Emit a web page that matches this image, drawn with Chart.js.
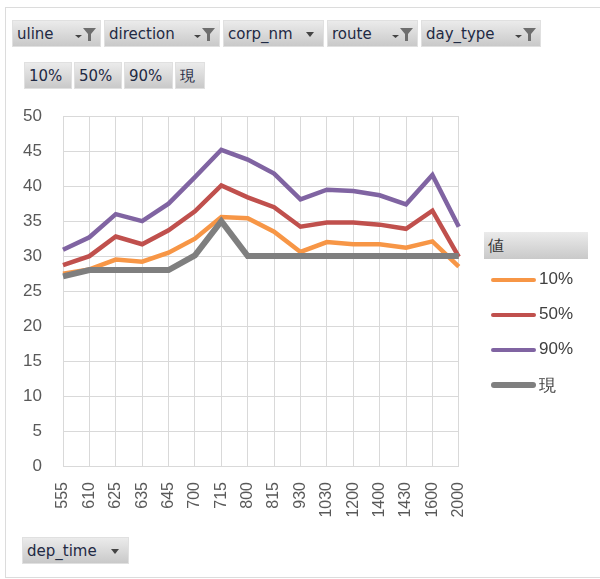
<!DOCTYPE html>
<html>
<head>
<meta charset="utf-8">
<script src="https://cdn.jsdelivr.net/npm/chart.js@4.4.0/dist/chart.umd.min.js"></script>
<style>
  body { margin: 0; background: #fff; width: 600px; height: 579px; overflow: hidden; position: relative; font-family: "DejaVu Sans", sans-serif; }
  .frame { position: absolute; left: 5px; top: 7px; width: 640px; height: 569px; border: 1px solid #dcdcdc; }
  .btn { position: absolute; height: 27px; line-height: 27px; font-size: 15px; color: #1f2a44;
         background: linear-gradient(#ebebeb, #c9c9c9); border: 1px solid #e0e0e0; box-sizing: border-box;
         padding-left: 4px; white-space: nowrap; }
  .btn svg { position: absolute; top: 6px; }
  #legend { position: absolute; left: 484px; top: 232px; }
  .lg-title { width: 104px; height: 27px; line-height: 27px; font-size: 16px; color: #333; padding-left: 4px;
              box-sizing: border-box; background: linear-gradient(#ebebeb, #c9c9c9); }
  .lg-item { position: relative; height: 35px; font-size: 17px; color: #404040; font-family: "Liberation Sans", sans-serif; }
  .lg-item span.sw { position: absolute; left: 7px; top: 21px; width: 45px; border-radius: 3px; }
  .lg-item span.tx { position: absolute; left: 55px; top: 10px; }
  #chart { position: absolute; left: 0; top: 85px; }
</style>
</head>
<body>
<div class="frame"></div>
<div id="filters"></div>
<canvas id="chart" width="494" height="455"></canvas>
<div id="legend"><div class="lg-title">値</div></div>
<script>
// données
const depTimes = ['555', '610', '625', '635', '645', '700', '715', '800', '815', '930', '1030', '1200', '1400', '1430', '1600', '2000'];
const p10 = [27.5, 28.1, 29.5, 29.2, 30.5, 32.5, 35.6, 35.4, 33.5, 30.6, 32.0, 31.7, 31.7, 31.2, 32.1, 28.5];
const p50 = [28.7, 30.0, 32.8, 31.7, 33.7, 36.4, 40.1, 38.4, 37.0, 34.2, 34.8, 34.8, 34.5, 33.9, 36.5, 29.9];
const p90 = [30.9, 32.7, 36.0, 35.0, 37.5, 41.3, 45.2, 43.8, 41.8, 38.1, 39.5, 39.3, 38.7, 37.4, 41.6, 34.2];
const current = [27.1, 28, 28, 28, 28, 30.1, 35, 30, 30, 30, 30, 30, 30, 30, 30, 30];
const seriesNames = ['10%', '50%', '90%', '現'];
const yTicks = [0, 5, 10, 15, 20, 25, 30, 35, 40, 45, 50];

const topFilters = ['uline', 'direction', 'corp_nm', 'route', 'day_type'];
const filtered = [true, true, false, true, true];

const colors = ['#f79646', '#c0504d', '#8064a2', '#7f7f7f'];

// boutons de filtre (style tableau croisé Excel)
const funnel = '<svg width="22" height="16" viewBox="0 0 22 16"><path d="M0 8 h7 l-3.5 3 z" fill="#444"/><path d="M8 1 h13 l-5 6 v7 h-3 v-7 z" fill="#6e6e6e"/></svg>';
const arrow = '<svg width="10" height="16" viewBox="0 0 10 16"><path d="M1 5 h8 l-4 5 z" fill="#444"/></svg>';
const filtersDiv = document.getElementById('filters');
function addButton(label, left, top, width, icon) {
    const b = document.createElement('div');
    b.className = 'btn';
    b.style.left = left + 'px';
    b.style.top = top + 'px';
    b.style.width = width + 'px';
    b.textContent = label;
    if (icon) {
        const i = document.createElement('span');
        i.innerHTML = icon;
        const svg = i.firstChild;
        svg.style.right = (icon === arrow ? 8 : 3) + 'px';
        b.appendChild(svg);
    }
    filtersDiv.appendChild(b);
}
const topLefts = [12, 104, 223, 327, 421];
const topWidths = [89, 116, 101, 91, 120];
topFilters.forEach((f, i) => addButton(f, topLefts[i], 20, topWidths[i], filtered[i] ? funnel : arrow));
const rowLefts = [24, 74, 124, 175];
const rowWidths = [48, 48, 49, 30];
seriesNames.forEach((s, i) => addButton(s, rowLefts[i], 62, rowWidths[i], null));
addButton('dep_time', 22, 537, 107, arrow);

// légende
const legend = document.getElementById('legend');
seriesNames.forEach((s, i) => {
    const it = document.createElement('div');
    it.className = 'lg-item';
    const w = i === 3 ? 6 : 4;
    it.innerHTML = '<span class="sw" style="background:' + colors[i] + ';height:' + w + 'px;margin-top:' + (-w / 2) + 'px"></span><span class="tx">' + s + '</span>';
    legend.appendChild(it);
});

const dataSets = [p10, p50, p90, current];
new Chart(document.getElementById('chart'), {
    type: 'line',
    data: {
        labels: depTimes,
        datasets: dataSets.map((d, i) => ({
            label: seriesNames[i],
            data: d,
            borderColor: colors[i],
            borderWidth: i === 3 ? 6 : 4.5,
            pointRadius: 0,
            tension: 0,
            order: 3 - i
        }))
    },
    options: {
        responsive: false,
        animation: false,
        layout: { padding: { top: 16, right: 11, left: 0, bottom: 0 } },
        plugins: { legend: { display: false }, tooltip: { enabled: false } },
        scales: {
            x: {
                offset: false,
                grid: { color: '#d9d9d9', drawTicks: false },
                border: { color: '#d9d9d9' },
                ticks: { maxRotation: 90, minRotation: 90, padding: 16, color: '#595959',
                         font: { family: 'Liberation Sans', size: 16 } },
                afterFit: s => { s.height = 74; }
            },
            y: {
                min: 0, max: 50,
                afterBuildTicks: s => { s.ticks = yTicks.map(v => ({ value: v })); },
                grid: { color: '#d9d9d9', drawTicks: false },
                border: { display: false },
                ticks: { padding: 21, color: '#595959', font: { family: 'Liberation Sans', size: 17 } },
                afterFit: s => { s.width = 63; }
            }
        }
    }
});
</script>
</body>
</html>
